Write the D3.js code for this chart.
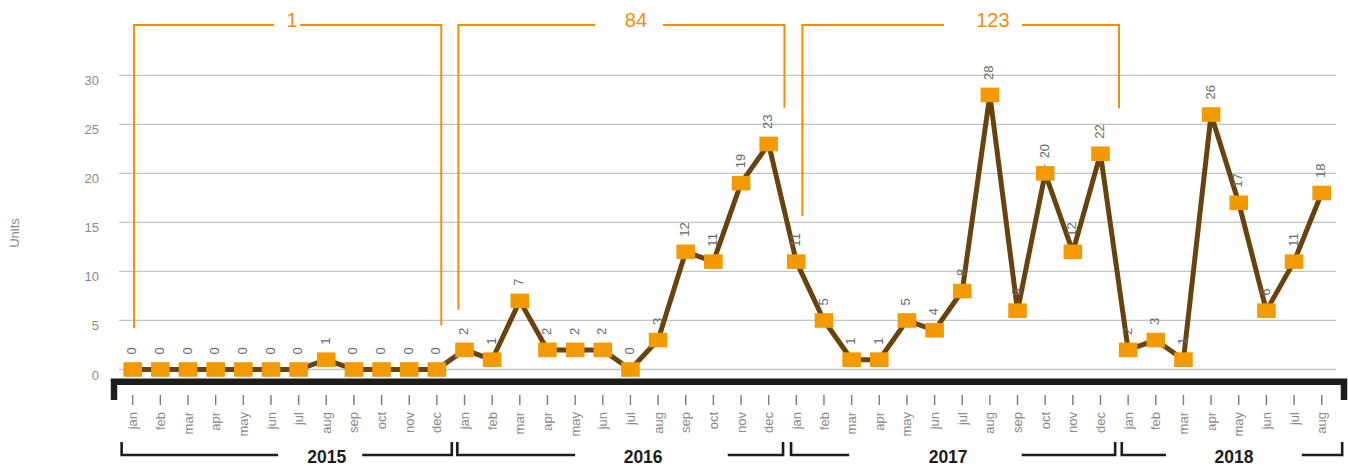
<!DOCTYPE html>
<html>
<head>
<meta charset="utf-8">
<script src="https://cdn.jsdelivr.net/npm/d3@7"></script>
<style>
  html, body { margin: 0; padding: 0; background: #fff; }
  svg text { font-family: "Liberation Sans", Arial, Helvetica, sans-serif; }
</style>
</head>
<body>
<div id="chart"></div>
<script>
// data
const years = ["2015", "2016", "2017", "2018"];
const monthNames = ["jan", "feb", "mar", "apr", "may", "jun", "jul", "aug", "sep", "oct", "nov", "dec"];
const units2015 = [0, 0, 0, 0, 0, 0, 0, 1, 0, 0, 0, 0];
const units2016 = [2, 1, 7, 2, 2, 2, 0, 3, 12, 11, 19, 23];
const units2017 = [11, 5, 1, 1, 5, 4, 8, 28, 6, 20, 12, 22];
const units2018 = [2, 3, 1, 26, 17, 6, 11, 18];
const yTicks = [0, 5, 10, 15, 20, 25, 30];

// yearly totals shown in the orange brackets on top
const totalLabels = ["1", "84", "123"];

// bracket geometry in month-index / value units
const totalFrom = [0.05, 11.78, 24.22];
const totalTo = [11.16, 23.57, 35.67];
const totalLeftEnd = [4.2, 6.1, 15.65];
const totalRightEnd = [4.5, 26.7, 26.65];
const totalTextAt = [5.76, 18.2, 31.11];
const totalGapFrom = [5.11, 16.72, 29.34];
const totalGapTo = [6.05, 19.17, 32.16];

const yearFrom = [-0.40, 11.74, 23.81, 35.77];
const yearTo = [11.54, 23.52, 35.53, 43.74];
const yearTextAt = [7.02, 18.46, 29.49, 39.83];
const yearGapFrom = [5.26, 16.0, 25.91, 37.37];
const yearGapTo = [8.30, 21.52, 32.15, 42.28];

const series = [units2015, units2016, units2017, units2018];
const points = [];
series.forEach((vals, yi) => {
  vals.forEach((v, mi) => points.push({ i: points.length, year: years[yi], month: monthNames[mi], value: v }));
});

const width = 1348, height = 466;
const orange = "#f29a00", bracketOrange = "#f28e0c", brown = "#68420f";

const svg = d3.select("#chart").append("svg")
  .attr("width", width)
  .attr("height", height);

const x = d3.scaleLinear().domain([0, points.length - 1]).range([132.7, 1321.7]);
const y = d3.scaleLinear().domain([0, 30]).range([369.5, 75.3]);

// grid + y labels
const grid = svg.append("g");
grid.selectAll("line")
  .data(yTicks)
  .join("line")
  .attr("x1", 119).attr("x2", 1336)
  .attr("y1", d => y(d)).attr("y2", d => y(d))
  .attr("stroke", "#c3c3c3")
  .attr("stroke-width", 1.3);

grid.selectAll("text")
  .data(yTicks)
  .join("text")
  .attr("x", 99)
  .attr("y", d => y(d) + 10)
  .attr("text-anchor", "end")
  .attr("fill", "#8a8a8a")
  .attr("font-size", "13px")
  .text(d => d);

svg.append("text")
  .attr("transform", "translate(19,233) rotate(-90)")
  .attr("text-anchor", "middle")
  .attr("fill", "#8a8a8a")
  .attr("font-size", "13px")
  .text("Units");

// orange total brackets
const tot = svg.append("g")
  .attr("fill", "none")
  .attr("stroke", bracketOrange)
  .attr("stroke-width", 2);
totalLabels.forEach((t, k) => {
  const topY = 25;
  tot.append("path")
    .attr("d", `M${x(totalFrom[k])},${y(totalLeftEnd[k])} V${topY} H${x(totalGapFrom[k])}`);
  tot.append("path")
    .attr("d", `M${x(totalGapTo[k])},${topY} H${x(totalTo[k])} V${y(totalRightEnd[k])}`);
  svg.append("text")
    .attr("x", x(totalTextAt[k]))
    .attr("y", 27)
    .attr("text-anchor", "middle")
    .attr("fill", bracketOrange)
    .attr("font-size", "20px")
    .text(t);
});

// black base bar
svg.append("path")
  .attr("d", `M114,400 V381.8 H1344 V400`)
  .attr("fill", "none")
  .attr("stroke", "#1d1d1b")
  .attr("stroke-width", 6.5)
  .attr("stroke-linejoin", "miter");

// month ticks + labels
svg.append("g")
  .selectAll("line")
  .data(points)
  .join("line")
  .attr("x1", d => x(d.i)).attr("x2", d => x(d.i))
  .attr("y1", 395).attr("y2", 405)
  .attr("stroke", "#7a7a7a")
  .attr("stroke-width", 1.4);

svg.append("g")
  .selectAll("text")
  .data(points)
  .join("text")
  .attr("transform", d => `translate(${x(d.i)},412) rotate(-90)`)
  .attr("text-anchor", "end")
  .attr("dy", "0.35em")
  .attr("fill", "#8a8a8a")
  .attr("font-size", "13px")
  .text(d => d.month);

// year brackets
const yr = svg.append("g")
  .attr("fill", "none")
  .attr("stroke", "#1d1d1b")
  .attr("stroke-width", 2.6);
years.forEach((t, k) => {
  yr.append("path").attr("d", `M${x(yearFrom[k])},442 V455 H${x(yearGapFrom[k])}`);
  yr.append("path").attr("d", `M${x(yearGapTo[k])},455 H${x(yearTo[k])} V442`);
  svg.append("text")
    .attr("x", x(yearTextAt[k]))
    .attr("y", 463)
    .attr("text-anchor", "middle")
    .attr("fill", "#1d1d1b")
    .attr("font-size", "17.5px")
    .attr("font-weight", "bold")
    .text(t);
});

// line
const line = d3.line().x(d => x(d.i)).y(d => y(d.value));
svg.append("path")
  .datum(points)
  .attr("d", line)
  .attr("fill", "none")
  .attr("stroke", brown)
  .attr("stroke-width", 5)
  .attr("stroke-linejoin", "miter");

// markers
svg.append("g")
  .selectAll("rect")
  .data(points)
  .join("rect")
  .attr("x", d => x(d.i) - 9.3)
  .attr("y", d => y(d.value) - 7.3)
  .attr("width", 18.6)
  .attr("height", 14.6)
  .attr("fill", orange);

// value labels
svg.append("g")
  .selectAll("text")
  .data(points)
  .join("text")
  .attr("transform", d => `translate(${x(d.i) - 1},${y(d.value) - 15}) rotate(-90)`)
  .attr("dy", "0.35em")
  .attr("fill", "#6a6a6a")
  .attr("font-size", "13px")
  .text(d => d.value);
</script>
</body>
</html>
